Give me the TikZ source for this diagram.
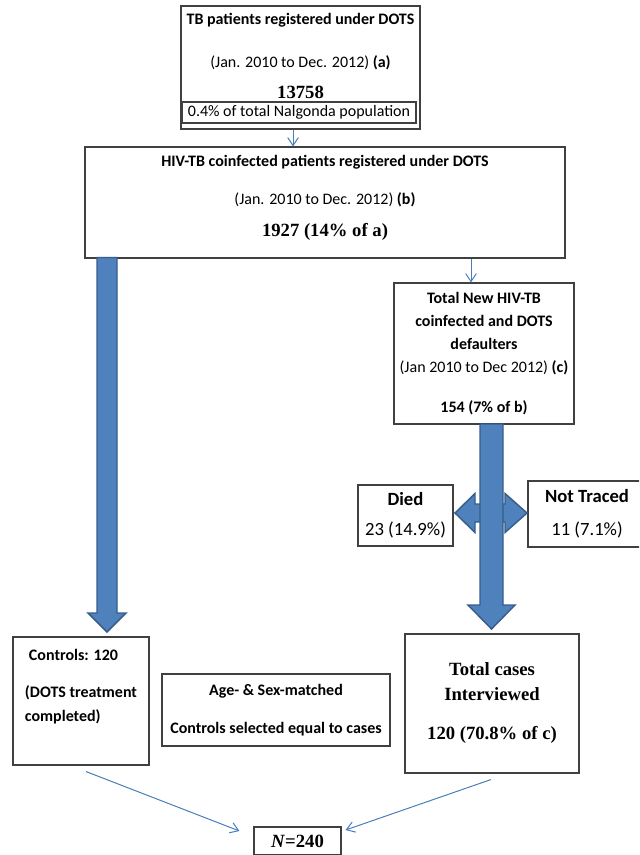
\documentclass[tikz,border=0pt]{standalone}
\usepackage{fontspec}
\setmainfont{Carlito}
\newfontfamily\tnr{Liberation Serif}
\usetikzlibrary{arrows.meta,positioning,calc}

\definecolor{flowblue}{HTML}{4A7EBB}
\definecolor{arrowfill}{HTML}{4F81BD}
\definecolor{arrowedge}{HTML}{385D8A}

% thick block arrow pointing down: x, top, tip, shaft half, head half, head length
\newcommand{\thickdown}[6]{%
 \filldraw[blockarrow] ({#1-#4},#2) -- ({#1+#4},#2) -- ({#1+#4},{#3-#6})
  -- ({#1+#5},{#3-#6}) -- (#1,#3) -- ({#1-#5},{#3-#6}) -- ({#1-#4},{#3-#6}) -- cycle;}

\begin{document}
\begin{tikzpicture}[
 x=0.75pt,y=-0.75pt,font=\fontsize{12}{14.4}\selectfont,
 box/.style={draw=black!75,line width=0.8pt,fill=white,align=center,inner sep=0pt},
 big/.style={font=\tnr\bfseries\fontsize{14}{16.8}\selectfont},
 loss/.style={font=\fontsize{14}{16.8}\selectfont},
 thinflow/.style={draw=flowblue,line width=0.75pt,-{Straight Barb[length=6pt,width=8pt]}},
 blockarrow/.style={fill=arrowfill,draw=arrowedge,line width=1.1pt}]
\useasboundingbox (0,0) rectangle (639,855);
\clip (0,0) rectangle (639,855);
% registered cases
\node[box,minimum width=179.25pt,minimum height=92.25pt] (tb) at (300.5,67.5)
 {\textbf{TB patients registered under DOTS}\\[17.85pt]
  (Jan. 2010 to Dec. 2012) \textbf{(a)}\\[9.2pt]
  {\tnr\bfseries\fontsize{14}{16.8}\selectfont 13758}\\[3.2pt]\mbox{}};
\node[box,minimum width=175.5pt,minimum height=15.75pt] (pct) at (299,112.5)
 {0.4\% of total Nalgonda population};
\node[box,minimum width=360pt,minimum height=83.25pt] (hiv) at (325,202.5)
 {\textbf{HIV-TB coinfected patients registered under DOTS}\\[14.1pt]
  (Jan. 2010 to Dec. 2012) \textbf{(b)}\\[9.2pt]
  {\tnr\bfseries\fontsize{14}{16.8}\selectfont 1927 (14\% of a)}\\[-4.6pt]\mbox{}};
\node[box,minimum width=135pt,minimum height=105.75pt] (tot) at (484,353.5)
 {\textbf{Total New HIV-TB}\\[2.85pt]\textbf{coinfected and DOTS}\\[2.85pt]
  \textbf{defaulters}\\[2.85pt](Jan 2010 to Dec 2012) \textbf{(c)}\\[15.6pt]
  \textbf{154 (7\% of b)}};
% losses
\node[box,loss,minimum width=71.25pt,minimum height=45.75pt] (died) at (405.5,515.5)
 {\textbf{Died}\\[5.7pt]23 (14.9\%)};
\node[box,loss,minimum width=88.5pt,minimum height=49.5pt] (nt) at (587,514)
 {\textbf{Not Traced}\\[7.95pt]11 (7.1\%)};
% study groups
\node[box,align=left,minimum width=102pt,minimum height=96pt] (ctrl) at (81,701)
 {\hspace*{3pt}\textbf{Controls: 120}\\[13.35pt]\textbf{(DOTS treatment}\\[3.6pt]
  \textbf{completed)}\\[9.6pt]\mbox{}};
\node[box,minimum width=171pt,minimum height=54pt] (age) at (276,710)
 {\textbf{Age- \& Sex-matched}\\[14.1pt]\textbf{Controls selected equal to cases}};
\node[box,big,minimum width=130.5pt,minimum height=104.25pt] (tcs) at (492,703.5)
 {Total cases\\[1.95pt]Interviewed\\[12.45pt]120 (70.8\% of c)};
\node[box,big,minimum width=65.25pt,minimum height=21pt] (nbox) at (297.5,841)
 {\textit{N}=240};
% block arrows
\thickdown{107}{257.5}{632}{10}{19}{19}
\filldraw[blockarrow] (455,513) -- (475,493.5) -- (475,504) -- (505,504) -- (505,493.5)
 -- (527,513) -- (505,532.5) -- (505,522) -- (475,522) -- (475,532.5) -- cycle;
\thickdown{491.5}{424}{629}{11.5}{23.5}{24}
% thin connectors
\coordinate (aout) at ([xshift=-5.6pt]tb.south);
\draw[thinflow] (aout) -- (aout |- hiv.north);
\coordinate (cin) at ([xshift=-9.75pt]tot.north);
\draw[thinflow] (cin |- hiv.south) -- (cin);
\coordinate (nl) at ([shift={(-10.5pt,7.5pt)}]nbox.west);
\coordinate (nr) at ([shift={(3pt,8.25pt)}]nbox.east);
\draw[thinflow] ([shift={(3.75pt,-4.5pt)}]ctrl.south) -- (nl);
\draw[thinflow] ([shift={(-0.75pt,-4.5pt)}]tcs.south) -- (nr);
\end{tikzpicture}
\end{document}
